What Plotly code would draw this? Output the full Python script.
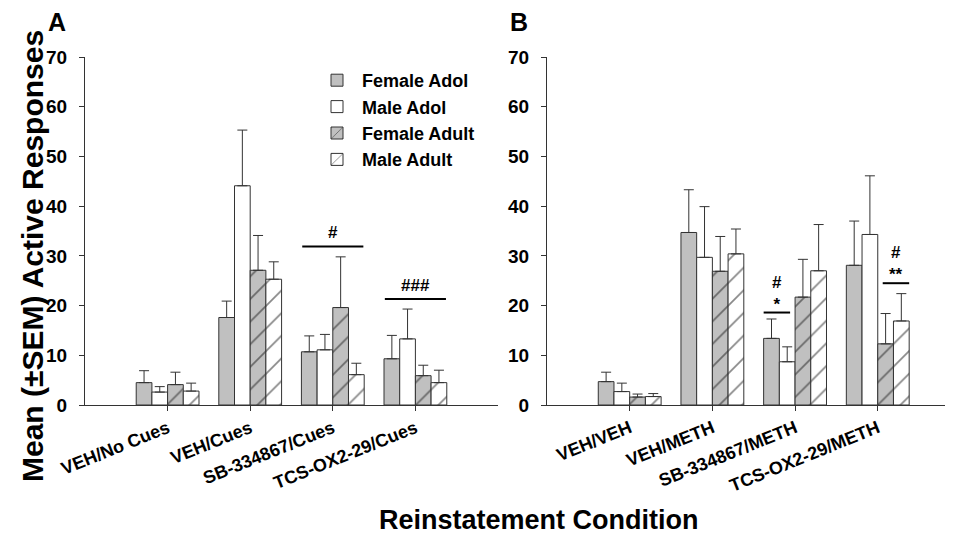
import plotly.graph_objects as go

# ---------------- data ----------------
series = ["Female Adol", "Male Adol", "Female Adult", "Male Adult"]
categories_A = ["VEH/No Cues", "VEH/Cues", "SB-334867/Cues", "TCS-OX2-29/Cues"]
categories_B = ["VEH/VEH", "VEH/METH", "SB-334867/METH", "TCS-OX2-29/METH"]

A_female_adol = [4.5, 17.6, 10.7, 9.3]
A_male_adol = [2.6, 44.1, 11.1, 13.3]
A_female_adult = [4.1, 27.1, 19.6, 5.9]
A_male_adult = [2.8, 25.3, 6.1, 4.5]
A_female_adol_sem = [2.4, 3.3, 3.2, 4.7]
A_male_adol_sem = [1.1, 11.2, 3.1, 6.0]
A_female_adult_sem = [2.5, 7.0, 10.2, 2.1]
A_male_adult_sem = [1.6, 3.5, 2.3, 2.5]

B_female_adol = [4.7, 34.7, 13.4, 28.1]
B_male_adol = [2.7, 29.7, 8.7, 34.3]
B_female_adult = [1.6, 26.9, 21.7, 12.3]
B_male_adult = [1.7, 30.4, 27.0, 16.9]
B_female_adol_sem = [1.9, 8.6, 3.9, 8.9]
B_male_adol_sem = [1.7, 10.2, 3.0, 11.8]
B_female_adult_sem = [0.6, 7.0, 7.6, 6.1]
B_male_adult_sem = [0.6, 5.0, 9.3, 5.5]

y_ticks = [0, 10, 20, 30, 40, 50, 60, 70]

# significance markers: (category index, left offset, right offset, line y, label)
sig_A = [(2, -0.37, 0.37, 31.9, "#"),
         (3, -0.37, 0.37, 21.3, "###")]
sig_B = [(2, -0.38, -0.06, 18.6, "#<br>*"),
         (3, 0.06, 0.38, 24.5, "#<br>**")]

# ---------------- styling ----------------
W, H = 945, 527          # page body adds an 8 px margin
FONT = "Liberation Sans, Arial, sans-serif"
GRAY = "#c0c0c0"
EDGE = "#333333"
HATCH = "#111111"
styles = [
    dict(color=GRAY, pattern=None),
    dict(color="white", pattern=None),
    dict(color=GRAY, pattern=dict(shape="/", bgcolor=GRAY, fgcolor=HATCH, size=16, solidity=0.11)),
    dict(color="white", pattern=dict(shape="/", bgcolor="white", fgcolor=HATCH, size=16, solidity=0.11)),
]


def px_x(p):
    return (p - 8) / W


def px_y(p):
    return 1 - (p - 8) / H


fig = go.Figure()

panels = [
    ("x", "y", [A_female_adol, A_male_adol, A_female_adult, A_male_adult],
     [A_female_adol_sem, A_male_adol_sem, A_female_adult_sem, A_male_adult_sem], True),
    ("x2", "y2", [B_female_adol, B_male_adol, B_female_adult, B_male_adult],
     [B_female_adol_sem, B_male_adol_sem, B_female_adult_sem, B_male_adult_sem], False),
]
for xa, ya, vals, sems, showleg in panels:
    for name, v, e, st in zip(series, vals, sems, styles):
        marker = dict(color=st["color"], line=dict(color=EDGE, width=1))
        if st["pattern"]:
            marker["pattern"] = st["pattern"]
        fig.add_trace(go.Bar(
            x=list(range(len(v))), y=v, name=name, xaxis=xa, yaxis=ya,
            marker=marker, showlegend=showleg, legendgroup=name,
            error_y=dict(type="data", array=e, arrayminus=[0] * len(e), symmetric=False,
                         color=EDGE, thickness=1, width=5),
        ))

axis_common = dict(showline=True, linecolor=EDGE, linewidth=1, ticks="outside",
                   ticklen=5, tickcolor=EDGE, showgrid=False, zeroline=False,
                   automargin=False)
ytick_font = dict(family=FONT, size=19, color="black", weight="bold")
xtick_font = dict(family=FONT, size=18, color="black", weight="bold")

ydom = [px_y(405), px_y(57)]
fig.update_layout(
    width=W, height=H,
    margin=dict(l=0, r=0, t=0, b=0),
    paper_bgcolor="white", plot_bgcolor="white",
    barmode="group", bargap=0.24, bargroupgap=0,
    font=dict(family=FONT, color="black"),
    xaxis=dict(domain=[px_x(85), px_x(498)], range=[-1, 4], tickvals=[0, 1, 2, 3],
               ticktext=categories_A, tickangle=-22, tickfont=xtick_font, anchor="y", **axis_common),
    yaxis=dict(domain=ydom, range=[0, 70], tickvals=y_ticks, tickfont=ytick_font,
               ticklabelstandoff=8, anchor="x", **axis_common),
    xaxis2=dict(domain=[px_x(547), 1.0], range=[-1, 3.91], tickvals=[0, 1, 2, 3],
                ticktext=categories_B, tickangle=-22, tickfont=xtick_font, anchor="y2", **axis_common),
    yaxis2=dict(domain=ydom, range=[0, 70], tickvals=y_ticks, tickfont=ytick_font,
                ticklabelstandoff=8, anchor="x2", **axis_common),
    legend=dict(x=px_x(312), y=px_y(62), xanchor="left", yanchor="top", bgcolor="rgba(0,0,0,0)",
                font=dict(family=FONT, size=18, color="black", weight="bold"),
                tracegroupgap=0, itemwidth=40),
)

# significance lines and labels
for (xa, ya), sigs in [(("x", "y"), sig_A), (("x2", "y2"), sig_B)]:
    for cat, lo, hi, ly, txt in sigs:
        fig.add_shape(type="line", xref=xa, yref=ya, x0=cat + lo, x1=cat + hi, y0=ly, y1=ly,
                      line=dict(color="black", width=2))
        fig.add_annotation(xref=xa, yref=ya, x=cat + (lo + hi) / 2, y=ly, text=txt,
                           showarrow=False, yanchor="bottom", yshift=(-3 if "<br>" in txt else 2),
                           font=dict(family=FONT, size=17, color="black", weight="bold"))

# panel letters and axis titles
letter_font = dict(family=FONT, size=25, color="black", weight="bold")
fig.add_annotation(xref="paper", yref="paper", x=px_x(57), y=px_y(22), text="A",
                   showarrow=False, xanchor="center", yanchor="middle", font=letter_font)
fig.add_annotation(xref="paper", yref="paper", x=px_x(519), y=px_y(22), text="B",
                   showarrow=False, xanchor="center", yanchor="middle", font=letter_font)
fig.add_annotation(xref="paper", yref="paper", x=px_x(32), y=px_y(256),
                   text="Mean (±SEM) Active Responses", textangle=-90, showarrow=False,
                   xanchor="center", yanchor="middle",
                   font=dict(family=FONT, size=30, color="black", weight="bold"))
fig.add_annotation(xref="paper", yref="paper", x=px_x(539), y=px_y(520),
                   text="Reinstatement Condition", showarrow=False,
                   xanchor="center", yanchor="middle",
                   font=dict(family=FONT, size=27, color="black", weight="bold"))

fig.write_html("out.html")
